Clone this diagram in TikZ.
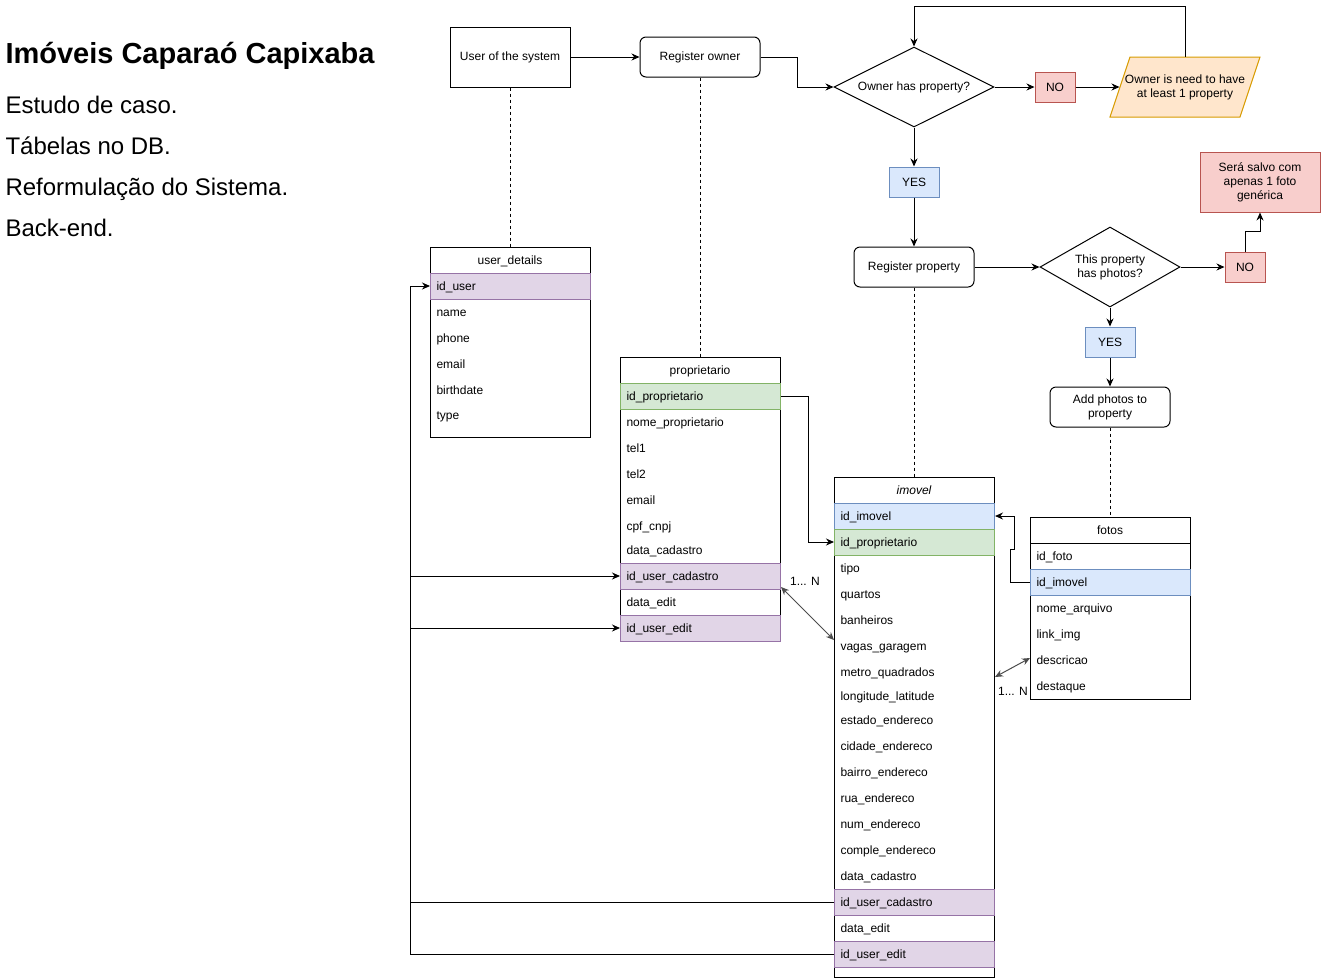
\documentclass[tikz,border=0pt]{standalone}
\usepackage{fontspec}
\setmainfont{Liberation Sans}
\usetikzlibrary{shapes.geometric,arrows.meta}
\definecolor{pufill}{HTML}{E1D5E7}
\definecolor{pudraw}{HTML}{9673A6}
\definecolor{grfill}{HTML}{D5E8D4}
\definecolor{grdraw}{HTML}{82B366}
\definecolor{blfill}{HTML}{DAE8FC}
\definecolor{bldraw}{HTML}{6C8EBF}
\definecolor{rdfill}{HTML}{F8CECC}
\definecolor{rddraw}{HTML}{B85450}
\definecolor{orfill}{HTML}{FFE6CC}
\definecolor{ordraw}{HTML}{D79B00}
\tikzset{
  every node/.style={font=\fontsize{12}{14}\selectfont},
  box/.style={draw, minimum width=120, minimum height=40, inner sep=2, align=center},
  rbox/.style={box, rounded corners=6},
  ask/.style={draw, diamond, aspect=2, inner sep=0, align=center},
  tag/.style={draw, minimum width=40, minimum height=30, inner sep=0},
  no/.style={tag, fill=rdfill, draw=rddraw},
  yes/.style={tag, minimum width=50, fill=blfill, draw=bldraw},
  tbl/.style={draw, minimum width=160, inner sep=0},
  hdr/.style={draw, minimum width=160, minimum height=26, inner sep=0, text height=10, text depth=2},
  row/.style={anchor=west, inner xsep=6, inner ysep=0, text width=148, minimum height=26, text height=10, text depth=2, align=left},
  purow/.style={row, fill=pufill, draw=pudraw},
  grrow/.style={row, fill=grfill, draw=grdraw},
  blrow/.style={row, fill=blfill, draw=bldraw},
  link/.style={dash pattern=on 3pt off 3pt},
  many/.style={<->, draw=black!70},
  txt/.style={anchor=base west, inner sep=0}
}
\begin{document}
\begin{tikzpicture}[x=1pt, y=-1pt, line width=1pt, >={Stealth[length=8pt,width=7pt]}]
  \useasboundingbox (0,0) rectangle (1321,978);

  \node[txt, font=\fontsize{29}{34}\selectfont\bfseries] (ttl) at (5,63) {Imóveis Caparaó Capixaba};
  \node[txt, font=\fontsize{24}{28}\selectfont] (l1) at (5,113) {Estudo de caso.};
  \node[txt, font=\fontsize{24}{28}\selectfont] (l2) at (5,154) {Tábelas no DB.};
  \node[txt, font=\fontsize{24}{28}\selectfont] (l3) at (5,195) {Reformulação do Sistema.};
  \node[txt, font=\fontsize{24}{28}\selectfont] (l4) at (5,236) {Back-end.};

  \node[box, minimum height=60] (usr) at (510,57) {User of the system};
  \node[rbox] (regown) at (700,57) {Register owner};
  \node[ask, minimum width=160, minimum height=80] (own) at (914,87) {Owner has property?};
  \node[no] (no1) at (1055,87) {NO};
  \draw[fill=orfill, draw=ordraw] (1110,117) -- (1130,57) -- (1260,57) -- (1240,117) -- cycle;
  \node[minimum width=130, minimum height=60, inner sep=0, align=center] (warn) at (1185,87) {Owner is need to have\\at least 1 property};
  \node[yes] (yes1) at (914,182) {YES};
  \node[rbox] (regprop) at (914,267) {Register property};
  \node[ask, minimum width=140, minimum height=80, aspect=1.75] (pho) at (1110,267) {This property\\has photos?};
  \node[no] (no2) at (1245,267) {NO};
  \node[box, minimum height=60, fill=rdfill, draw=rddraw] (salvo) at (1260,182) {Será salvo com\\apenas 1 foto\\genérica};
  \node[yes] (yes2) at (1110,342) {YES};
  \node[rbox] (addph) at (1110,407) {Add photos to\\property};

  \node[tbl, minimum height=190] (ud) at (510,342) {};
  \node[hdr] (ud-h) at (510,260) {user\_details};
  \node[purow] (ud-id) at (430,286) {id\_user};
  \foreach \y/\t in {312/name, 338/phone, 364/email, 390/birthdate, 415/type}
    \node[row] at (430,\y) {\t};

  \node[tbl, minimum height=284] (pr) at (700,499) {};
  \node[hdr] (pr-h) at (700,370) {proprietario};
  \node[grrow] (pr-id) at (620,396) {id\_proprietario};
  \foreach \y/\t in {422/nome\_proprietario, 448/tel1, 474/tel2, 500/email, 526/cpf\_cnpj, 550/data\_cadastro, 602/data\_edit}
    \node[row] at (620,\y) {\t};
  \node[purow] (pr-iuc) at (620,576) {id\_user\_cadastro};
  \node[purow] (pr-iue) at (620,628) {id\_user\_edit};

  \node[tbl, minimum height=500] (im) at (914,727) {};
  \node[hdr, font=\fontsize{12}{14}\selectfont\itshape] (im-h) at (914,490) {imovel};
  \node[blrow] (im-id) at (834,516) {id\_imovel};
  \node[grrow] (im-ip) at (834,542) {id\_proprietario};
  \foreach \y/\t/\n in {568/tipo/tp, 594/quartos/qt, 620/banheiros/bh, 646/vagas\_garagem/vg, 672/metro\_quadrados/mq,
      696/longitude\_latitude/ll, 720/estado\_endereco/ee, 746/cidade\_endereco/ce, 772/bairro\_endereco/be,
      798/rua\_endereco/re, 824/num\_endereco/ne, 850/comple\_endereco/co, 876/data\_cadastro/dc, 928/data\_edit/de}
    \node[row] (im-\n) at (834,\y) {\t};
  \node[purow] (im-iuc) at (834,902) {id\_user\_cadastro};
  \node[purow] (im-iue) at (834,954) {id\_user\_edit};

  \node[tbl, minimum height=182] (fo) at (1110,608) {};
  \node[hdr] (fo-h) at (1110,530) {fotos};
  \node[row] (fo-if) at (1030,556) {id\_foto};
  \node[blrow] (fo-im) at (1030,582) {id\_imovel};
  \foreach \y/\t/\n in {608/nome\_arquivo/na, 634/link\_img/li, 660/descricao/ds, 686/destaque/dq}
    \node[row] (fo-\n) at (1030,\y) {\t};

  \node[inner sep=0] (lab1) at (805,581) {1... N};
  \node[inner sep=0] (lab2) at (1013,691) {1... N};
  \coordinate (bus) at (410,0);

  \begin{scope}[->]
    \draw (usr) -- (regown);
    \draw (regown.east) -- ++(37,0) |- (own.west);
    \draw (own) -- (no1);
    \draw (no1) -- (warn.west);
    \draw (warn.north) -- ++(0,-50) -| (own.north);
    \draw (own) -- (yes1);
    \draw (yes1) -- (regprop);
    \draw (regprop) -- (pho);
    \draw (pho) -- (no2);
    \draw (no2.north) -- ++(0,-20) -| (salvo.south);
    \draw (pho) -- (yes2);
    \draw (yes2) -- (addph);
    \draw (pr-id.east) -- ++(27,0) |- (im-ip.west);
    \draw (fo-im.west) -- ++(-20,0) -- ++(0,-33) -- ++(4,0) |- (im-id.east);
    \draw (im-iue.west) -- (im-iue.west -| bus) |- (ud-id.west);
    \draw (pr-iuc.west -| bus) -- (pr-iuc.west);
    \draw (pr-iue.west -| bus) -- (pr-iue.west);
  \end{scope}
  \draw (im-iuc.west) -- (im-iuc.west -| bus);
  \draw[many] ([yshift=-11pt]pr-iuc.east) -- ([yshift=6pt]im-vg.west);
  \draw[many] ([yshift=-5pt]im-mq.east) -- ([yshift=2pt]fo-ds.west);

  \begin{scope}[link]
    \draw (usr) -- (ud-h);
    \draw (regown) -- (pr-h);
    \draw (regprop) -- (im-h);
    \draw (addph) -- (fo-h);
  \end{scope}
\end{tikzpicture}
\end{document}
